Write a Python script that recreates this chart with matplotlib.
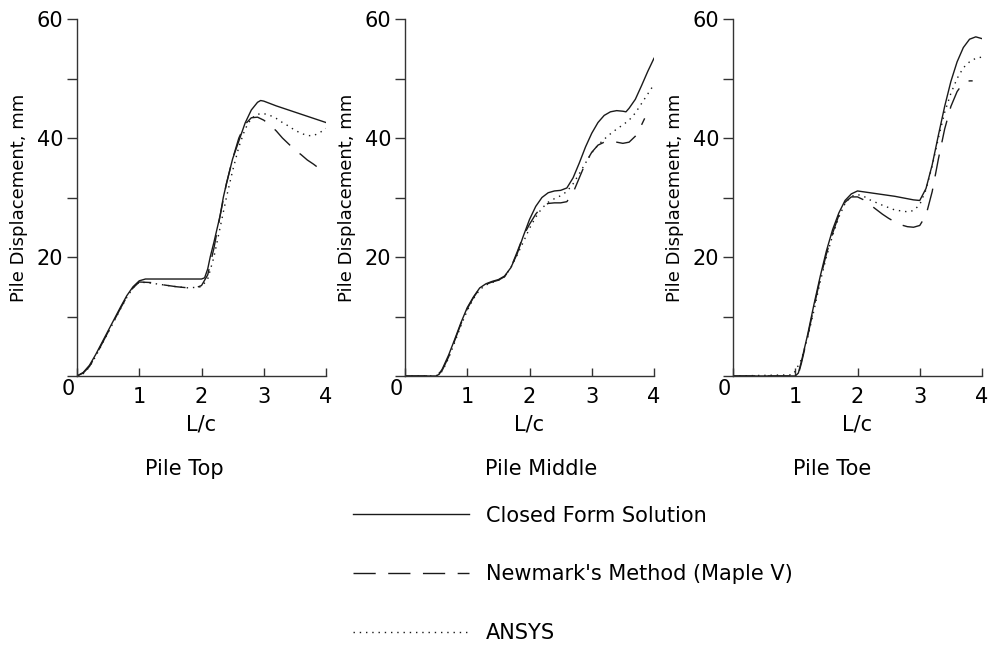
import matplotlib
matplotlib.use("Agg")
import matplotlib.pyplot as plt

plt.rcParams['font.family'] = ['DejaVu Sans']

# Pile Top
top_x_closed = [0, 0.1, 0.2, 0.3, 0.4, 0.5, 0.6, 0.7, 0.8, 0.9, 1.0, 1.1, 1.2, 1.4, 1.6, 1.8, 2.0, 2.05,
                2.1, 2.14, 2.2, 2.3, 2.35, 2.4, 2.5, 2.6, 2.7, 2.8, 2.9, 2.95, 3.0, 3.2, 3.4, 3.6, 3.8, 4.0]
top_y_closed = [0, 0.6, 1.8, 3.6, 5.6, 7.6, 9.6, 11.6, 13.5, 15.0, 16.0, 16.3, 16.3, 16.3, 16.3, 16.3, 16.3, 16.5,
                18.0, 20.0, 22.5, 27.0, 30.0, 32.3, 36.5, 39.5, 42.5, 44.7, 46.0, 46.3, 46.2, 45.4, 44.7, 44.0, 43.3, 42.6]
top_x_newmark = [0, 0.1, 0.2, 0.3, 0.4, 0.5, 0.6, 0.7, 0.8, 0.9, 1.0, 1.2, 1.4, 1.6, 1.8, 1.9, 2.0, 2.1,
                 2.2, 2.3, 2.4, 2.5, 2.6, 2.7, 2.8, 2.9, 3.0, 3.1, 3.2, 3.3, 3.4, 3.5, 3.6, 3.7, 3.8, 3.85]
top_y_newmark = [0, 0.5, 1.6, 3.4, 5.4, 7.4, 9.4, 11.4, 13.3, 14.8, 15.8, 15.7, 15.3, 15.0, 14.8, 14.8, 15.2, 17.0,
                 21.5, 27.0, 32.3, 36.5, 40.0, 42.3, 43.4, 43.5, 43.0, 42.2, 41.2, 40.0, 39.0, 38.0, 37.2, 36.3, 35.6, 35.2]
top_x_ansys = [0, 0.1, 0.2, 0.3, 0.4, 0.5, 0.6, 0.7, 0.8, 0.9, 1.0, 1.2, 1.4, 1.6, 1.8, 2.0, 2.1, 2.2, 2.3,
               2.4, 2.5, 2.6, 2.7, 2.8, 2.9, 3.0, 3.1, 3.2, 3.3, 3.4, 3.5, 3.6, 3.7, 3.8, 3.9, 4.0]
top_y_ansys = [0, 0.4, 1.5, 3.3, 5.3, 7.3, 9.3, 11.3, 13.2, 14.8, 15.8, 15.6, 15.3, 15.0, 14.8, 15.0, 16.3, 20.0, 25.0,
               30.0, 34.5, 38.5, 41.5, 43.3, 44.0, 44.1, 43.8, 43.3, 42.6, 42.0, 41.3, 40.8, 40.4, 40.4, 40.9, 41.6]

# Pile Middle
mid_x_closed = [0, 0.5, 0.55, 0.6, 0.7, 0.8, 0.9, 1.0, 1.1, 1.2, 1.3, 1.4, 1.5, 1.6, 1.7, 1.8, 1.9, 2.0, 2.1, 2.2,
                2.3, 2.4, 2.5, 2.6, 2.7, 2.8, 2.9, 3.0, 3.1, 3.2, 3.3, 3.4, 3.5, 3.55, 3.6, 3.7, 3.8, 3.9, 4.0]
mid_y_closed = [0, 0, 0.3, 1.2, 3.5, 6.2, 9.0, 11.5, 13.3, 14.8, 15.5, 15.9, 16.2, 16.8, 18.2, 20.5, 23.5, 26.3, 28.5, 30.0,
                30.8, 31.1, 31.2, 31.6, 33.3, 35.8, 38.5, 40.8, 42.6, 43.8, 44.4, 44.6, 44.5, 44.4, 45.0, 46.5, 48.8, 51.2, 53.4]
mid_x_newmark = [0, 0.5, 0.6, 0.7, 0.8, 0.9, 1.0, 1.1, 1.2, 1.3, 1.4, 1.5, 1.6, 1.7, 1.8, 1.9, 2.0, 2.1, 2.2,
                 2.3, 2.4, 2.5, 2.6, 2.7, 2.8, 2.9, 3.0, 3.1, 3.2, 3.3, 3.4, 3.5, 3.6, 3.7, 3.8, 3.85]
mid_y_newmark = [0, 0, 1.0, 3.2, 6.0, 8.8, 11.3, 13.2, 14.7, 15.4, 15.8, 16.1, 16.7, 18.2, 20.8, 23.5, 25.5, 27.2, 28.5,
                 29.0, 29.1, 29.1, 29.3, 30.8, 33.3, 35.8, 37.6, 38.8, 39.3, 39.4, 39.3, 39.1, 39.3, 40.3, 42.2, 43.3]
mid_x_ansys = [0, 0.5, 0.6, 0.7, 0.8, 0.9, 1.0, 1.1, 1.2, 1.3, 1.4, 1.5, 1.6, 1.7, 1.8, 1.9, 2.0, 2.1, 2.2, 2.3,
               2.4, 2.5, 2.6, 2.7, 2.8, 2.9, 3.0, 3.1, 3.2, 3.3, 3.4, 3.5, 3.6, 3.7, 3.8, 3.9, 4.0]
mid_y_ansys = [0, 0, 0.8, 3.0, 5.7, 8.5, 11.0, 13.0, 14.5, 15.3, 15.7, 16.1, 16.7, 18.2, 20.3, 22.5, 24.8, 26.7, 28.2, 29.2,
               29.8, 30.3, 31.0, 32.3, 34.0, 35.8, 37.5, 38.8, 39.8, 40.7, 41.5, 42.2, 43.0, 44.2, 45.8, 47.4, 49.0]

# Pile Toe
toe_x_closed = [0, 1.0, 1.05, 1.1, 1.2, 1.3, 1.4, 1.5, 1.6, 1.7, 1.8, 1.9, 2.0, 2.2, 2.4, 2.6, 2.8, 2.9, 3.0,
                3.1, 3.2, 3.3, 3.4, 3.5, 3.6, 3.7, 3.8, 3.9, 4.0]
toe_y_closed = [0, 0, 0.5, 2.5, 7.0, 12.0, 16.7, 21.0, 24.6, 27.4, 29.5, 30.6, 31.1, 30.8, 30.5, 30.2, 29.8, 29.6, 29.5,
                31.5, 35.5, 40.5, 45.3, 49.5, 52.8, 55.2, 56.6, 57.0, 56.7]
toe_x_newmark = [0, 1.0, 1.05, 1.1, 1.2, 1.3, 1.4, 1.5, 1.6, 1.7, 1.8, 1.9, 2.0, 2.1, 2.2, 2.3, 2.4, 2.5, 2.6, 2.7,
                 2.8, 2.9, 3.0, 3.1, 3.2, 3.3, 3.4, 3.5, 3.6, 3.7, 3.8, 3.85]
toe_y_newmark = [0, 0, 0.3, 2.2, 6.7, 11.6, 16.3, 20.5, 24.0, 27.0, 29.2, 30.1, 30.1, 29.6, 28.8, 28.0, 27.2, 26.5, 25.9, 25.4,
                 25.1, 25.0, 25.3, 27.0, 31.0, 36.5, 41.5, 45.3, 47.8, 49.3, 49.6, 49.6]
toe_x_ansys = [0, 0.95, 1.0, 1.1, 1.2, 1.3, 1.4, 1.5, 1.6, 1.7, 1.8, 1.9, 2.0, 2.1, 2.2, 2.4, 2.6, 2.8, 2.9, 3.0,
               3.1, 3.2, 3.3, 3.4, 3.5, 3.6, 3.7, 3.8, 3.9, 4.0]
toe_y_ansys = [0, 0.2, 0.8, 2.8, 6.5, 11.0, 15.8, 20.0, 23.6, 26.7, 29.0, 30.2, 30.5, 30.2, 29.6, 28.7, 27.9, 27.6, 27.8, 28.8,
               31.3, 35.3, 40.0, 44.3, 47.5, 50.0, 51.8, 52.8, 53.4, 53.6]

panels = [
    ("Pile Top", top_x_closed, top_y_closed, top_x_newmark, top_y_newmark, top_x_ansys, top_y_ansys),
    ("Pile Middle", mid_x_closed, mid_y_closed, mid_x_newmark, mid_y_newmark, mid_x_ansys, mid_y_ansys),
    ("Pile Toe", toe_x_closed, toe_y_closed, toe_x_newmark, toe_y_newmark, toe_x_ansys, toe_y_ansys),
]
labels = ["Closed Form Solution", "Newmark's Method (Maple V)", "ANSYS"]

ink = "#1a1a1a"
fig = plt.figure(figsize=(9.88, 6.48), dpi=100)
lefts = [77 / 988, 405 / 988, 733 / 988]
title_pos = [0.43, 0.545, 0.40]   # titles are not quite centred under the axes

handles = None
for left, tx, (title, xc, yc, xn, yn, xa, ya) in zip(lefts, title_pos, panels):
    ax = fig.add_axes([left, 272 / 648, 249 / 988, 357 / 648])
    l1, = ax.plot(xc, yc, color=ink, lw=1.0)
    l2, = ax.plot(xn, yn, color=ink, lw=1.0, dashes=(16, 9))
    l3, = ax.plot(xa, ya, color=ink, lw=1.0, dashes=(1, 3.5))
    handles = [l1, l2, l3]
    ax.set_xlim(0, 4)
    ax.set_ylim(0, 60)
    for s in ("top", "right"):
        ax.spines[s].set_visible(False)
    for s in ("left", "bottom"):
        ax.spines[s].set_color("#333333")
        ax.spines[s].set_linewidth(1.0)
    ax.set_xticks([0, 1, 2, 3, 4])
    ax.set_xticklabels(["", "1", "2", "3", "4"])
    ax.set_yticks([0, 10, 20, 30, 40, 50, 60])
    ax.set_yticklabels(["", "", "20", "", "40", "", "60"])
    ax.tick_params(axis="x", direction="in", length=6, width=1, color="#333333", labelsize=15, pad=8)
    ax.tick_params(axis="y", direction="out", length=7, width=1, color="#333333", labelsize=15, pad=3)
    ax.text(-0.03, -0.5, "0", fontsize=15, ha="right", va="top", transform=ax.transData)
    ax.set_ylabel("Pile Displacement, mm", fontsize=13, labelpad=6)
    ax.set_xlabel("L/c", fontsize=15, labelpad=5)
    ax.text(tx, -0.26, title, fontsize=15, ha="center", va="center", transform=ax.transAxes)

fig.legend(handles, labels, loc="upper left", bbox_to_anchor=(334 / 988, 1 - 487 / 648),
           frameon=False, fontsize=15, handlelength=5.6, handletextpad=0.8, labelspacing=1.85)

fig.savefig("out.png", dpi=100)
